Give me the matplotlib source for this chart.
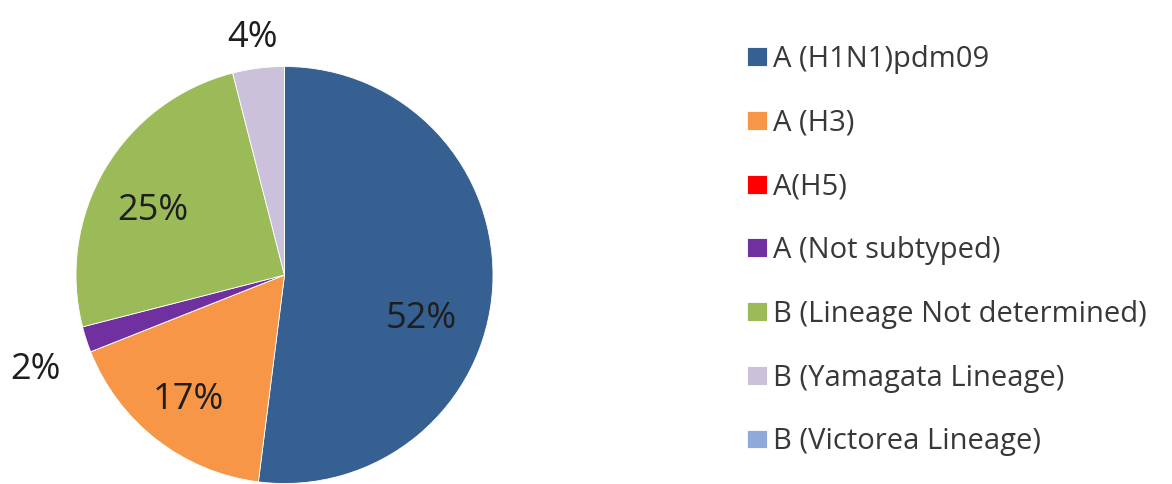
import numpy as np
import matplotlib
matplotlib.use("Agg")
import matplotlib.pyplot as plt

categories = ["A (H1N1)pdm09", "A (H3)", "A(H5)", "A (Not subtyped)",
              "B (Lineage Not determined)", "B (Yamagata Lineage)", "B (Victorea Lineage)"]
values = [52, 17, 0, 2, 25, 4, 0]
label_texts = ["52%", "17%", "", "2%", "25%", "4%", ""]
colors = ["#376092", "#F79646", "#FF0000", "#7030A0", "#9BBB59", "#CCC1DA", "#8EAADB"]

# label placement (radius fraction, angle offset in degrees)
label_r = [0.68, 0.74, 0, 1.27, 0.71, 1.17, 0]
label_dang = [-12.4, -0.6, 0, 2.0, 3.2, 0.3, 0]

W, H = 1172, 484
fig = plt.figure(figsize=(W / 100, H / 100), dpi=100)
fig.patch.set_facecolor("white")

cx, cy, R = 284.5, 275.0, 208.5
ax = fig.add_axes([(cx - R) / W, (H - cy - R) / H, 2 * R / W, 2 * R / H])
wedges, _ = ax.pie(values, colors=colors, startangle=90, counterclock=False,
                   radius=1.0, wedgeprops=dict(linewidth=0.6, edgecolor="white"))
ax.set_xlim(-1, 1)
ax.set_ylim(-1, 1)
ax.set_aspect("auto")
ax.axis("off")

font = "Open Sans"
for w, txt, r, da in zip(wedges, label_texts, label_r, label_dang):
    if not txt:
        continue
    mid = np.deg2rad((w.theta1 + w.theta2) / 2 + da)
    ax.text(r * np.cos(mid), r * np.sin(mid), txt, ha="center", va="center_baseline",
            fontsize=26, color="#1e1e1e", family=font, clip_on=False)

leg = fig.legend(wedges, categories, loc="upper left",
                 bbox_to_anchor=(747 / W, 1 - 45 / H), frameon=False,
                 prop=dict(family=font, size=21), handlelength=0.68,
                 handleheight=0.62, handletextpad=0.2, labelspacing=1.19,
                 borderaxespad=0, borderpad=0)
for t in leg.get_texts():
    t.set_color("#383838")

fig.savefig("out.png", dpi=100, facecolor="white")
